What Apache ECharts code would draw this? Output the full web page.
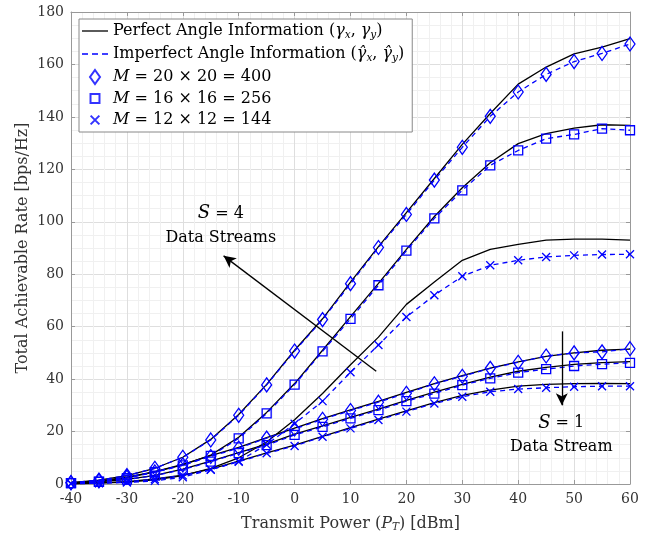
<!DOCTYPE html>
<html>
<head>
<meta charset="utf-8">
<title>Total Achievable Rate</title>
<script src="https://cdn.jsdelivr.net/npm/echarts@6/dist/echarts.min.js"></script>
<style>body{margin:0;background:#fff;}</style>
</head>
<body>
<div id="chart" style="width:663px;height:539px;"></div>
<script>
// x values (dBm) and axis ticks
var power = [-40,-35,-30,-25,-20,-15,-10,-5,0,5,10,15,20,25,30,35,40,45,50,55,60];
var xTicks = [-40,-30,-20,-10,0,10,20,30,40,50,60];
var yTicks = [0,20,40,60,80,100,120,140,160,180];

// S = 4 data streams
var perfS4M400 = [0.5,1.5,3.2,6,10.2,17,26.5,38,51,63,77,90.5,103.5,116.5,129.5,141.3,152.5,159,164,166.6,169.8];
var impS4M400  = [0.5,1.5,3.2,6,10.2,16.8,26.2,37.8,50.7,62.7,76.4,90.2,102.8,115.9,128.4,140.2,149.5,156.2,161.1,164.2,167.8];
var perfS4M256 = [0.3,0.9,2.3,4.6,7.3,11,17.8,27.3,38.3,51,63.8,76.5,89.5,102,113,122.5,129.8,133.6,135.7,137,136.8];
var impS4M256  = [0.3,0.9,2.2,4.5,7.1,10.7,17.4,26.9,37.9,50.6,63,75.8,89,101.3,112,121.5,127.2,131.7,133.3,135.5,134.9];
var perfS4M144 = [0.1,0.3,0.7,1.6,3.2,6,10,16,24.5,34.5,45.5,56,68.5,77,85.3,89.5,91.4,93,93.4,93.4,93];
var impS4M144  = [0.1,0.3,0.6,1.2,2.6,5.4,8.7,15,23,31.6,42.6,53,63.7,72,79.2,83.4,85.3,86.6,87.2,87.5,87.6];
// S = 1 data stream
var perfS1M400 = [0.5,1.2,2.6,4.7,7.5,10.8,14,17.7,21.3,24.9,28.3,31.5,34.9,38.3,41.3,44.2,46.6,48.7,50,51,51.4];
var impS1M400  = [0.5,1.2,2.6,4.6,7.3,10.5,13.7,17.5,21,24.7,28,31.2,34.6,38.2,41.1,44.1,46.4,48.8,50,50.4,51.6];
var perfS1M256 = [0.3,0.8,1.8,3.3,5.7,8.7,12,15.2,19,22.2,25.4,28.6,31.9,35,38,40.8,43,44.5,45.6,46.3,46.7];
var impS1M256  = [0.3,0.8,1.7,3.2,5.5,8.5,11.8,14.8,18.7,21.8,25,28.2,31.6,34.5,37.7,40.3,42.5,43.8,45,45.7,46.2];
var perfS1M144 = [0.2,0.4,0.9,1.9,3.4,5.7,8.7,11.9,14.8,18.2,21.5,24.7,27.9,31,33.8,35.8,37.3,38,38.3,38.4,38.3];
var impS1M144  = [0.2,0.4,0.9,1.8,3.3,5.5,8.5,11.7,14.5,18,21.2,24.4,27.6,30.7,33.3,35.2,36.2,36.7,37.1,37.3,37.3];

// legend entries
var legendNames = ['perf','imp','m400','m256','m144'];
var legendLabels = [
  'Perfect Angle Information ({i|\u03b3}{s|x}, {i|\u03b3}{s|y})',
  'Imperfect Angle Information ({i|\u03b3\u0302}{s|x}, {i|\u03b3\u0302}{s|y})',
  '{i|M} = 20 \u00d7 20 = 400',
  '{i|M} = 16 \u00d7 16 = 256',
  '{i|M} = 12 \u00d7 12 = 144'
];

var SERIF = 'DejaVu Serif';
var BLUE = '#0000ff';
var DIAMOND = 'path://M5,0L10,7L5,14L0,7Z';
var SQUARE = 'path://M0,0L10,0L10,10L0,10Z';
var CROSS = 'path://M0,0L10,10M10,0L0,10';
// legend icons (padded so they keep the small size inside the 14px icon box)
var legendIcons = [
  'path://M0,0H26V1.3H0Z',
  'path://M0,0H6V1.3H0ZM10,0H16V1.3H10ZM20,0H26V1.3H20Z',
  'path://M0,0M10,14M5,0L10,7L5,14L0,7Z',
  'path://M-2.8,-2.8M12.8,12.8M0,0L10,0L10,10L0,10Z',
  'path://M-3,-3M13,13M0,0L10,10M10,0L0,10'
];

function pairs(vals) {
  return power.map(function (p, i) { return [p, vals[i]]; });
}
function perfect(vals) {
  return { type: 'line', data: pairs(vals), symbol: 'none', silent: true, z: 2,
    lineStyle: { color: '#000', width: 1.3 } };
}
function imperfect(vals, sym, size) {
  return { type: 'line', data: pairs(vals), symbol: sym, symbolSize: size, showAllSymbol: true, silent: true, z: 3,
    lineStyle: { color: BLUE, width: 1.3, type: [5, 4] },
    itemStyle: { color: 'rgba(0,0,0,0)', borderColor: BLUE, borderWidth: 1.3 } };
}
function marker(name, sym, size) {
  return { name: name, type: 'scatter', data: [], symbol: sym, symbolSize: size,
    itemStyle: { color: 'rgba(0,0,0,0)', borderColor: BLUE, borderWidth: 1.3 } };
}

var rich = {
  i: { fontFamily: SERIF, fontSize: 16, fontStyle: 'italic', color: '#000' },
  s: { fontFamily: SERIF, fontSize: 10.5, fontStyle: 'italic', color: '#000', padding: [8, 0, 0, 0] }
};

var chart = echarts.init(document.getElementById('chart'));
var gridColor = '#dedede';

var option = {
  animation: false,
  textStyle: { fontFamily: SERIF },
  grid: { left: 71, right: 33, top: 12, bottom: 55 },
  xAxis: [{
    type: 'value', min: xTicks[0], max: xTicks[xTicks.length - 1], interval: 10,
    name: 'Transmit Power ({i|P}{s|T}) [dBm]', nameLocation: 'middle', nameGap: 30,
    nameTextStyle: { fontFamily: SERIF, fontSize: 16, color: '#333',
      rich: { i: { fontFamily: SERIF, fontSize: 16, fontStyle: 'italic', color: '#333' },
              s: { fontFamily: SERIF, fontSize: 10.5, fontStyle: 'italic', color: '#333', padding: [8, 0, 0, 0] } } },
    axisLine: { onZero: false, lineStyle: { color: '#999', width: 1 } },
    axisTick: { inside: true, length: 4, lineStyle: { color: '#999' } },
    axisLabel: { fontFamily: SERIF, fontSize: 14, color: '#333', margin: 8 },
    splitLine: { show: true, lineStyle: { color: gridColor, width: 1 } },
    minorTick: { show: false, splitNumber: 5 },
    minorSplitLine: { show: true, lineStyle: { color: '#f0f0f0', width: 1 } }
  }, {
    type: 'value', position: 'top', min: xTicks[0], max: xTicks[xTicks.length - 1], interval: 10,
    axisLine: { onZero: false, lineStyle: { color: '#999' } },
    axisTick: { inside: true, length: 4, lineStyle: { color: '#999' } },
    axisLabel: { show: false }, splitLine: { show: false }
  }],
  yAxis: [{
    type: 'value', min: yTicks[0], max: yTicks[yTicks.length - 1], interval: 20,
    name: 'Total Achievable Rate [bps/Hz]', nameLocation: 'middle', nameGap: 40, nameMoveOverlap: false,
    nameTextStyle: { fontFamily: SERIF, fontSize: 16, color: '#333' },
    axisLine: { show: true, onZero: false, lineStyle: { color: '#999', width: 1 } },
    axisTick: { show: true, inside: true, length: 4, lineStyle: { color: '#999' } },
    axisLabel: { fontFamily: SERIF, fontSize: 14, color: '#333', margin: 7 },
    splitLine: { show: true, lineStyle: { color: gridColor, width: 1 } },
    minorTick: { show: false, splitNumber: 4 },
    minorSplitLine: { show: true, lineStyle: { color: '#f0f0f0', width: 1 } }
  }, {
    type: 'value', position: 'right', min: yTicks[0], max: yTicks[yTicks.length - 1], interval: 20,
    axisLine: { show: true, onZero: false, lineStyle: { color: '#999' } },
    axisTick: { show: true, inside: true, length: 4, lineStyle: { color: '#999' } },
    axisLabel: { show: false }, splitLine: { show: false }
  }],
  legend: {
    data: legendNames.map(function (n, k) {
      return { name: n, icon: legendIcons[k] };
    }),
    orient: 'vertical', left: 79, top: 19,
    backgroundColor: '#fff', borderColor: '#888', borderWidth: 1, borderRadius: 0,
    padding: [4, 8, 4, 3], itemGap: 5.5, itemWidth: 26, itemHeight: 14,
    selectedMode: false,
    formatter: function (n) { return legendLabels[legendNames.indexOf(n)]; },
    textStyle: { fontFamily: SERIF, fontSize: 16, color: '#000', lineHeight: 16, rich: rich }
  },
  series: [
    perfect(perfS4M400), perfect(perfS4M256), perfect(perfS4M144),
    perfect(perfS1M400), perfect(perfS1M256), perfect(perfS1M144),
    imperfect(impS4M400, DIAMOND, [10, 14]), imperfect(impS4M256, SQUARE, [9, 9]), imperfect(impS4M144, CROSS, [8, 8]),
    imperfect(impS1M400, DIAMOND, [10, 14]), imperfect(impS1M256, SQUARE, [9, 9]), imperfect(impS1M144, CROSS, [8, 8]),
    { name: 'perf', type: 'line', data: [], symbol: 'none', itemStyle: { color: '#000' }, lineStyle: { color: '#000', width: 1.3 } },
    { name: 'imp', type: 'line', data: [], symbol: 'none', itemStyle: { color: BLUE }, lineStyle: { color: BLUE, width: 1.3, type: [5, 4] } },
    marker('m400', DIAMOND, [10, 14]), marker('m256', SQUARE, [9, 9]), marker('m144', CROSS, [8, 8]),
    // annotations (arrows + labels) in data coordinates
    {
      type: 'line', data: [], silent: true, z: 5,
      markLine: {
        silent: true, animation: false, symbol: ['none', 'arrow'], symbolSize: [9, 12],
        label: { show: false },
        lineStyle: { color: '#000', width: 1.3, type: 'solid' },
        emphasis: { disabled: true },
        data: [
          [{ coord: [14.6, 43] }, { coord: [-12.7, 87] }],
          [{ coord: [47.8, 58.2] }, { coord: [47.8, 30] }]
        ]
      },
      markPoint: {
        silent: true, animation: false, symbol: 'circle', symbolSize: 0,
        label: {
          show: true, position: 'inside', fontFamily: SERIF, fontSize: 16, color: '#000', lineHeight: 24,
          rich: { i: { fontFamily: SERIF, fontSize: 18, fontStyle: 'italic', color: '#000' } }
        },
        data: [
          { coord: [-13.2, 98.5], label: { formatter: '{i|S} = 4\nData Streams' } },
          { coord: [47.7, 18.7], label: { formatter: '{i|S} = 1\nData Stream' } }
        ]
      }
    }
  ]
};
chart.setOption(option);
</script>
</body>
</html>
